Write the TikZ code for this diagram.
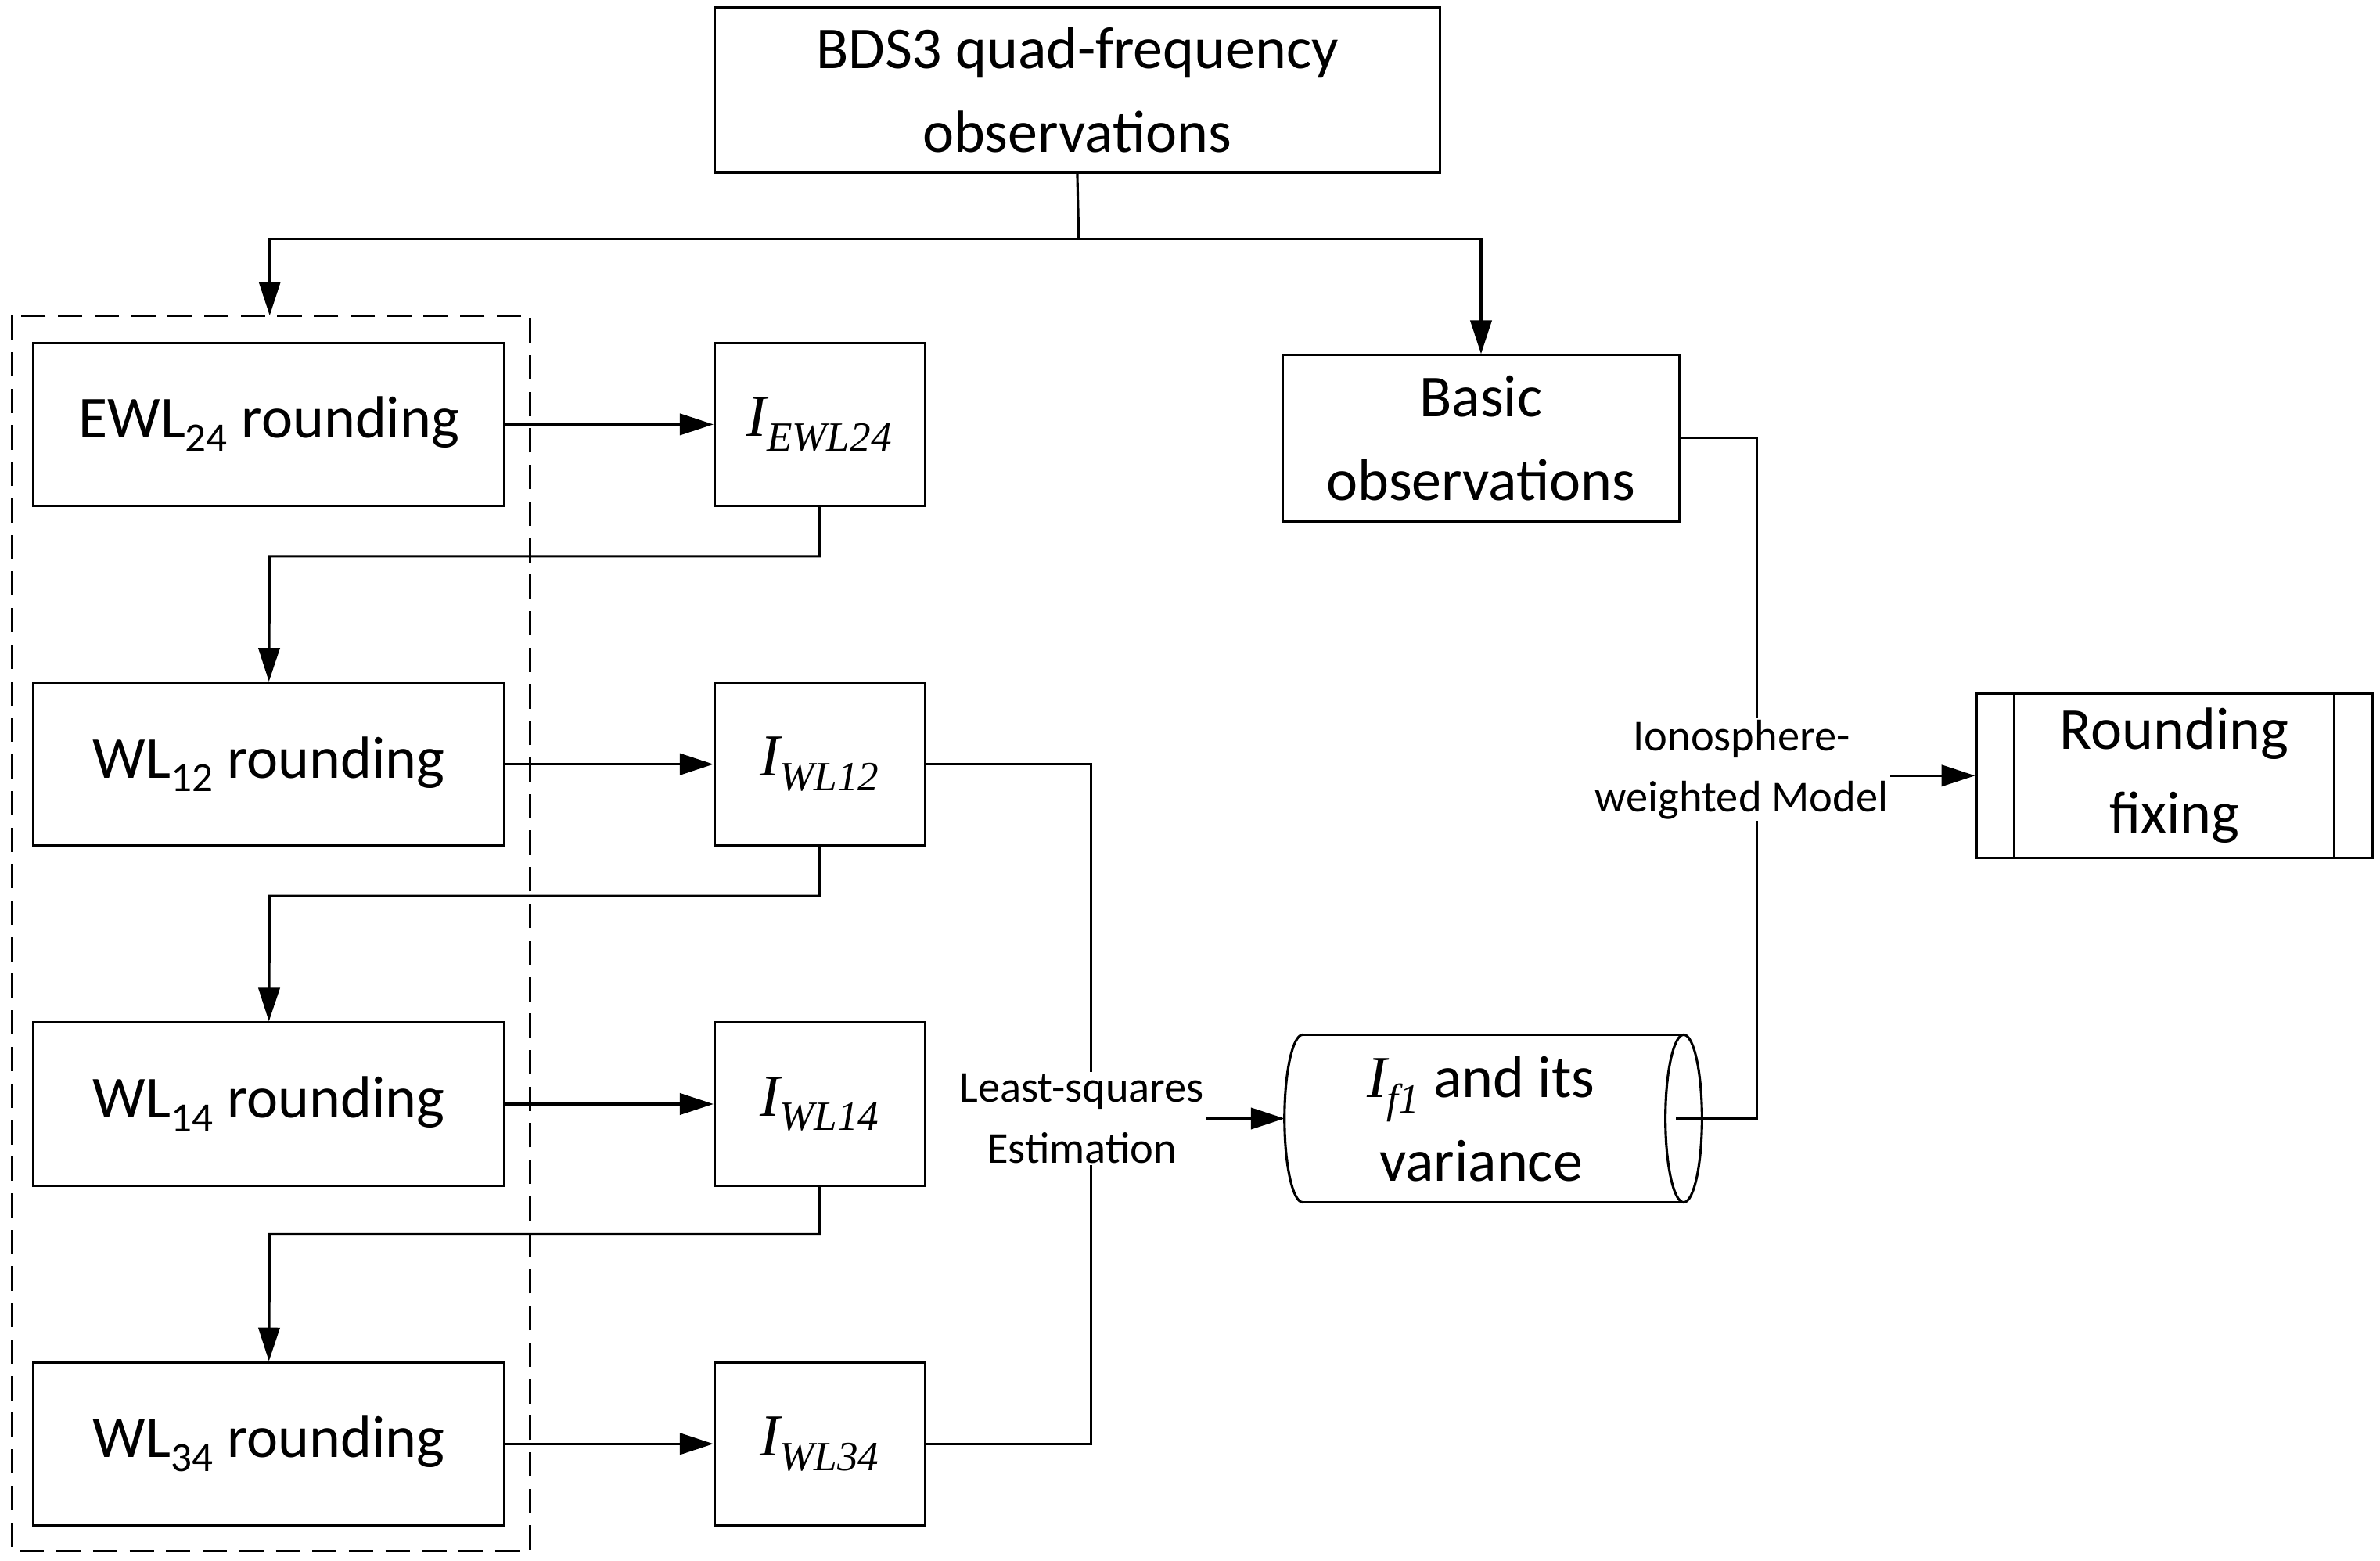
\documentclass[tikz,border=0pt]{standalone}
\usepackage{fontspec}
\setmainfont{Carlito}
\newfontfamily\tms{Liberation Serif}
\usetikzlibrary{arrows.meta}
\begin{document}
\begin{tikzpicture}[x=1pt,y=-1pt,
 box/.style={draw,line width=1.6pt,inner sep=0pt,align=center,font=\fontsize{39}{55}\selectfont},
 ibox/.style={box,minimum width=138pt,minimum height=107pt,font=\fontsize{39}{40}\selectfont\tms\itshape},
 rbox/.style={box,minimum width=309pt,minimum height=107pt},
 ln/.style={line width=1.6pt},
 ar/.style={ln,-{Triangle[length=22pt,width=14pt]}},
 lab/.style={font=\fontsize{29}{40}\selectfont,align=center,fill=white,inner sep=1pt}]
\useasboundingbox (0,0) rectangle (1562,1024);
\node[box,minimum width=476pt,minimum height=108pt] (top) at (707,59) {BDS3 quad-frequency\\observations};
\draw[ln,dash pattern=on 16pt off 8pt] (8,207) rectangle (348,1018);
\node[rbox] (r1) at (176.5,278.5) {EWL\textsubscript{24} rounding};
\node[rbox] (r2) at (176.5,501.5) {WL\textsubscript{12} rounding};
\node[rbox] (r3) at (176.5,724.5) {WL\textsubscript{14} rounding};
\node[rbox] (r4) at (176.5,947.5) {WL\textsubscript{34} rounding};
\node[ibox] (i1) at (538,278.5) {I\textsubscript{EWL24}};
\node[ibox] (i2) at (538,501.5) {I\textsubscript{WL12}};
\node[ibox] (i3) at (538,724.5) {I\textsubscript{WL14}};
\node[ibox] (i4) at (538,947.5) {I\textsubscript{WL34}};
\node[box,minimum width=260pt,minimum height=109pt] (bas) at (972,287.5) {Basic\\observations};
\node[box,minimum width=260pt,minimum height=108pt] (rf) at (1427,509) {Rounding\\fixing};
\draw[ln] (1322,455) -- (1322,563) (1532,455) -- (1532,563);
\coordinate (sp) at (708,157);
\coordinate (dt) at (177,207);
\draw[ln] (top.south) -- (sp);
\draw[ar] (sp) -| (dt);
\draw[ar] (sp) -| (bas.north);
\foreach \a/\b in {r1/i1,r2/i2,r3/i3,r4/i4} \draw[ar] (\a.east) -- (\b.west);
\draw[ar] (i1.south) |- (177,365) -- (r2.north);
\draw[ar] (i2.south) |- (177,588) -- (r3.north);
\draw[ar] (i3.south) |- (177,810) -- (r4.north);
% cylinder
\draw[ln] (855,679) -- (1105,679) (855,789) -- (1105,789);
\draw[ln] (855,679) arc[start angle=-90,end angle=-270,x radius=12,y radius=55];
\draw[ln] (1105,734) ellipse[x radius=12,y radius=55];
\node[font=\fontsize{39}{55}\selectfont,align=center,inner sep=0pt] (cyl) at (972,734) {{\tms\itshape I\textsubscript{f1}} and its\\variance};
\coordinate (cl) at (843,734);
\draw[ln] (i2.east) -| (716,947.5) -- (i4.east);
\node[lab] (ls) at (710,734) {Least-squares\\Estimation};
\draw[ar] (ls.east) -- (cl);
\draw[ln] (bas.east) -| (1153,734) -- (1100,734);
\node[lab] (iw) at (1143,505) {Ionosphere-\\weighted Model};
\draw[ar] (iw.east |- rf.west) -- (rf.west);
\end{tikzpicture}
\end{document}
